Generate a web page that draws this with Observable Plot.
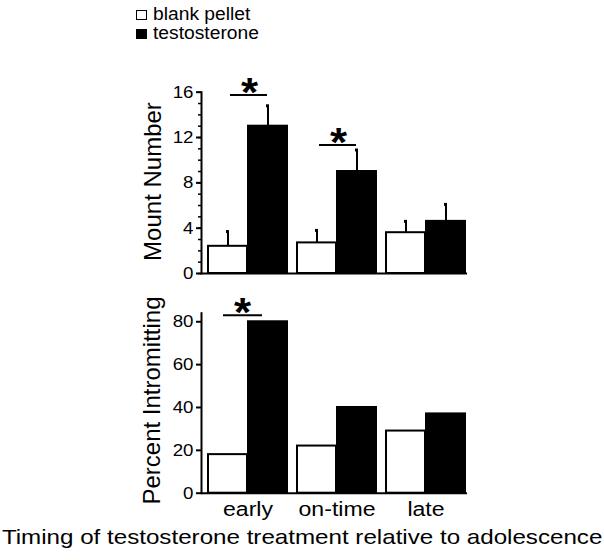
<!DOCTYPE html>
<html>
<head>
<meta charset="utf-8">
<script src="https://cdn.jsdelivr.net/npm/d3@7"></script>
<script src="https://cdn.jsdelivr.net/npm/@observablehq/plot@0.6"></script>
<style>
  html, body { margin: 0; padding: 0; background: #fff; }
  #wrap { position: relative; width: 604px; height: 560px; overflow: hidden; background: #fff;
          font-family: "Liberation Sans", Arial, sans-serif; color: #000; }
  #wrap svg { position: absolute; left: 0; overflow: visible; }
  .sw { position: absolute; left: 136px; width: 9px; height: 8px; border: 1.5px solid #000; }
  .lt { position: absolute; left: 153px; font-size: 17.5px; line-height: 17.5px; white-space: nowrap;
        transform: scaleX(1.1); transform-origin: left center; }
  .title { position: absolute; left: 0; width: 604px; text-align: center; font-size: 21px; line-height: 21px;
           white-space: nowrap; transform: scaleX(1.15); transform-origin: 301px center; }
</style>
</head>
<body>
<div id="wrap"></div>
<script>
// ---- data ----
const timings = ["early", "on-time", "late"];
const treatments = ["blank pellet", "testosterone"];

const mountBlank    = [2.4, 2.7, 3.6];
const mountBlankErr = [1.3, 1.1, 1.0];
const mountTesto    = [13.0, 9.0, 4.6];
const mountTestoErr = [1.8, 1.9, 1.5];

const intromBlank = [18, 22, 29];
const intromTesto = [80, 40, 37];

const mountTicks  = [0, 4, 8, 12, 16];
const mountMinor  = d3.range(0, 17);
const intromTicks = [0, 20, 40, 60, 80];

const mountSigGroups  = ["early", "on-time"];
const mountSigLevel   = [15.75, 11.35];
const intromSigGroups = ["early"];
const intromSigLevel  = [83.1];

const yLabelTop = "Mount Number";
const yLabelBottom = "Percent Intromitting";
const xTitle = "Timing of testosterone treatment relative to adolescence";

// ---- layout ----
const W = 604, ML = 201, MR = 137, INSET = 6, PAD = 0.111;
const bw = (W - ML - MR - INSET) / (timings.length - PAD) * (1 - PAD);
const half = bw / 2;
const FONT = "'Liberation Sans', Arial, sans-serif";
const K = 1.1; // horizontal stretch of the original lettering

const rows = (means, errs) => timings.map((t, i) => ({timing: t, value: means[i], hi: errs ? means[i] + errs[i] : null}));
const sigRows = (groups, levels) => groups.map((g, i) => ({timing: g, y: levels[i]}));

const topBlank = rows(mountBlank, mountBlankErr);
const topTesto = rows(mountTesto, mountTestoErr);
const botBlank = rows(intromBlank);
const botTesto = rows(intromTesto);
const topSig = sigRows(mountSigGroups, mountSigLevel);
const botSig = sigRows(intromSigGroups, intromSigLevel);

const xScale = {domain: timings, insetLeft: INSET, paddingInner: PAD, paddingOuter: 0};
const style = {fontFamily: FONT, background: "transparent", color: "#000", overflow: "visible"};

// widen each (non-rotated) text about its anchor point, after it is in the document
function stretch(svg, k) {
  svg.querySelectorAll("text").forEach(t => {
    const tr = t.getAttribute("transform") || "";
    if (/rotate/.test(tr)) return;
    let b;
    try { b = t.getBBox(); } catch (e) { return; }
    const anchor = getComputedStyle(t).textAnchor;
    const ax = anchor === "end" ? b.x + b.width : anchor === "middle" ? b.x + b.width / 2 : b.x;
    t.setAttribute("transform", `${tr} translate(${ax},0) scale(${k},1) translate(${-ax},0)`);
  });
}

const topPlot = Plot.plot({
  width: W, height: 230, marginLeft: ML, marginRight: MR, marginTop: 31.7, marginBottom: 17,
  style,
  x: {...xScale, axis: null},
  y: {domain: [0, 16], label: null},
  marks: [
    Plot.barY(topBlank, {x: "timing", y: "value", fill: "white", stroke: "#000", strokeWidth: 2, insetRight: half}),
    Plot.barY(topTesto, {x: "timing", y: "value", fill: "#000", stroke: "#000", strokeWidth: 2, insetLeft: half}),
    Plot.ruleX(topBlank, {x: "timing", y1: "value", y2: "hi", dx: -half / 2, strokeWidth: 2}),
    Plot.ruleX(topTesto, {x: "timing", y1: "value", y2: "hi", dx: half / 2, strokeWidth: 2}),
    Plot.tickY(topBlank, {x: "timing", y: "hi", insetLeft: half / 2 - 2, insetRight: half * 1.5 - 2, strokeWidth: 3}),
    Plot.tickY(topTesto, {x: "timing", y: "hi", insetLeft: half * 1.5 - 2, insetRight: half / 2 - 2, strokeWidth: 3}),
    Plot.tickY(topSig, {x: "timing", y: "y", insetLeft: 22, insetRight: 20, strokeWidth: 2}),
    Plot.text(topSig, {x: "timing", y: "y", text: () => "*", dx: 1.5, dy: 11, fontSize: 40, fontWeight: "bold", lineAnchor: "bottom"}),
    Plot.axisY({ticks: mountMinor, tickSize: 3, text: null, label: null, strokeWidth: 1.5}),
    Plot.axisY({ticks: mountTicks, tickSize: 5, tickPadding: 3, fontSize: 17, label: null, strokeWidth: 2}),
    Plot.frame({anchor: "left", strokeWidth: 2}),
    Plot.ruleY([0], {strokeWidth: 2}),
    Plot.text([yLabelTop], {text: d => d, frameAnchor: "left", textAnchor: "middle", rotate: -90, dx: -41, dy: -1.3, fontSize: 24, lineAnchor: "bottom"})
  ]
});

const botPlot = Plot.plot({
  width: W, height: 240, marginLeft: ML, marginRight: MR, marginTop: 22.7, marginBottom: 37.3,
  style,
  x: {...xScale, label: null},
  y: {domain: [0, 84], label: null},
  marks: [
    Plot.barY(botBlank, {x: "timing", y: "value", fill: "white", stroke: "#000", strokeWidth: 2, insetRight: half}),
    Plot.barY(botTesto, {x: "timing", y: "value", fill: "#000", stroke: "#000", strokeWidth: 2, insetLeft: half}),
    Plot.tickY(botSig, {x: "timing", y: "y", insetLeft: 15, insetRight: 25, strokeWidth: 2}),
    Plot.text(botSig, {x: "timing", y: "y", text: () => "*", dx: -5.5, dy: 10.5, fontSize: 40, fontWeight: "bold", lineAnchor: "bottom"}),
    Plot.axisY({ticks: intromTicks, tickSize: 5, tickPadding: 3, fontSize: 17, label: null, strokeWidth: 2}),
    Plot.axisX({tickSize: 0, tickPadding: 8, fontSize: 21, label: null}),
    Plot.frame({anchor: "left", strokeWidth: 2}),
    Plot.ruleY([0], {strokeWidth: 2}),
    Plot.text([yLabelBottom], {text: d => d, frameAnchor: "left", textAnchor: "middle", rotate: -90, dx: -42, dy: -2.7, fontSize: 24, lineAnchor: "bottom"})
  ]
});

topPlot.style.top = "60px";
botPlot.style.top = "290px";

const wrap = document.getElementById("wrap");
wrap.appendChild(topPlot);
wrap.appendChild(botPlot);
stretch(topPlot, K);
stretch(botPlot, K);

// legend
const legendTops = [10, 29.3];
treatments.forEach((name, i) => {
  const sw = document.createElement("div");
  sw.className = "sw";
  sw.style.top = legendTops[i] + "px";
  sw.style.background = i === 0 ? "#fff" : "#000";
  wrap.appendChild(sw);
  const lt = document.createElement("div");
  lt.className = "lt";
  lt.style.top = (legendTops[i] - 4.3) + "px";
  lt.textContent = name;
  wrap.appendChild(lt);
});

// x title
const tt = document.createElement("div");
tt.className = "title";
tt.style.top = "525.5px";
tt.textContent = xTitle;
wrap.appendChild(tt);
</script>
</body>
</html>
